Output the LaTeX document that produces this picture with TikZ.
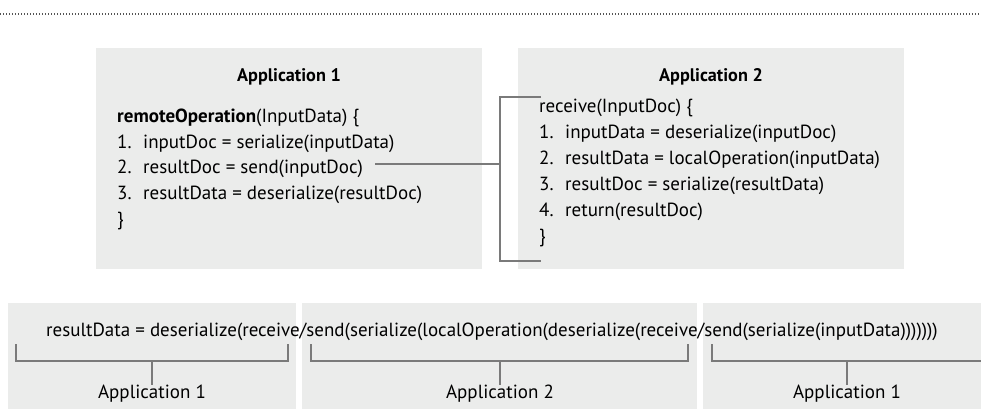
\documentclass[tikz,border=0pt]{standalone}
\usepackage{fontspec}
\setmainfont{PT Sans}
\definecolor{boxfill}{HTML}{EBECEB}
\definecolor{linegrey}{HTML}{7A7A7A}
\definecolor{dotgrey}{HTML}{555555}
\begin{document}
\begin{tikzpicture}[x=1pt,y=-1pt,
  panel/.style={fill=boxfill,draw=none},
  codeline/.style={anchor=west,inner sep=0pt,font=\fontsize{19}{23}\selectfont},
  heading/.style={inner sep=0pt,font=\fontsize{18.2}{22}\selectfont\bfseries},
  label/.style={inner sep=0pt,font=\fontsize{19}{23}\selectfont},
  conn/.style={draw=linegrey,line width=1.5pt}]
\useasboundingbox (0,0) rectangle (981,409);
% top dotted rule
\coordinate (dl) at (0,14);
\coordinate (dr) at (981,14);
\draw[dotgrey,line width=1.2pt,dash pattern=on 1.2pt off 1.8pt] (dl) -- (dr);
% panels
\fill[panel] (96,48) rectangle (482,269);
\fill[panel] (518,48) rectangle (904,269);
\fill[panel] (8,303) rectangle (296,409);
\fill[panel] (302,303) rectangle (697,409);
\fill[panel] (703,303) rectangle (981,409);
% Application 1
\node[heading] (h1) at (289,77) {Application 1};
\newcommand{\num}[1]{\makebox[26pt][l]{#1}}
\node[codeline] (a0) at (117,118) {\textbf{remoteOperation}(InputData) \{};
\node[codeline] (a1) at (117,144) {\num{1.}inputDoc = serialize(inputData)};
\node[codeline] (a2) at (117,169) {\num{2.}resultDoc = send(inputDoc)};
\node[codeline] (a3) at (117,195) {\num{3.}resultData = deserialize(resultDoc)};
\node[codeline] (a4) at (117,221) {\}};
% Application 2
\node[heading] (h2) at (711,77) {Application 2};
\node[codeline] (b0) at (539,108) {receive(InputDoc) \{};
\node[codeline] (b1) at (539,134) {\num{1.}inputData = deserialize(inputDoc)};
\node[codeline] (b2) at (539,160) {\num{2.}resultData = localOperation(inputData)};
\node[codeline] (b3) at (539,186) {\num{3.}resultDoc = serialize(resultData)};
\node[codeline] (b4) at (539,212) {\num{4.}return(resultDoc)};
\node[codeline] (b5) at (539,238) {\}};
% connector and bracket
\coordinate (cs) at ([xshift=12pt]a2.east);
\coordinate (bt) at (541,97);
\coordinate (btl) at (500,97);
\coordinate (bbl) at (500,261);
\coordinate (bb) at (541,261);
\coordinate (bm) at (500,164);
\draw[conn] (cs |- bm) -- (bm);
\draw[conn] (bt) -- (btl) -- (bbl) -- (bb);
% bottom expression
\node[label] (expr) at (492,332) {resultData = deserialize(receive/send(serialize(localOperation(deserialize(receive/send(serialize(inputData)))))))};
% brackets
\coordinate (p1a) at (16,344); \coordinate (p1b) at (288,344);
\coordinate (p2a) at (311,344); \coordinate (p2b) at (688,344);
\coordinate (p3a) at (712,344); \coordinate (p3b) at (981,361);
\draw[conn,line width=1.2pt] (p1a) -- (16,361) -- (288,361) -- (p1b);
\draw[conn,line width=1.2pt] (p2a) -- (311,361) -- (688,361) -- (p2b);
\draw[conn,line width=1.2pt] (p3a) -- (712,361) -- (p3b);
\node[label] (l1) at (152,394) {Application 1};
\node[label] (l2) at (500,394) {Application 2};
\node[label] (l3) at (847,394) {Application 1};
\draw[conn,line width=1.2pt] (152,361) -- (l1.north);
\draw[conn,line width=1.2pt] (500,361) -- (l2.north);
\draw[conn,line width=1.2pt] (847,361) -- (l3.north);
\end{tikzpicture}
\end{document}
